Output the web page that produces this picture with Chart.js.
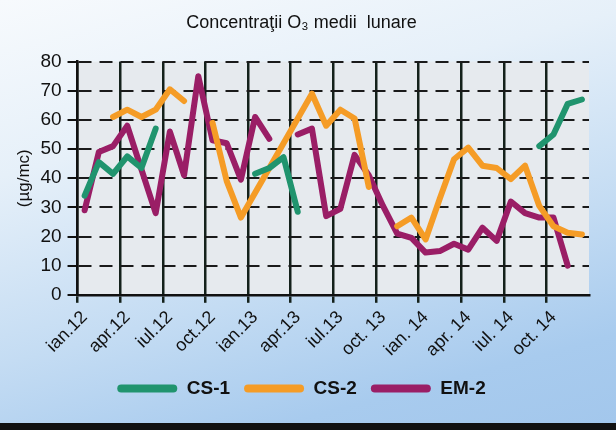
<!DOCTYPE html>
<html>
<head>
<meta charset="utf-8">
<script src="https://cdn.jsdelivr.net/npm/chart.js@4"></script>
<style>
    html, body { margin: 0; padding: 0; }
    #wrap {
        width: 616px;
        height: 423px;
        border-bottom: 7px solid #111;
        background: linear-gradient(165deg, #f7fafd 0%, #e6f0f9 30%, #c4dcf3 62%, #a8cbee 85%, #a3c7ec 100%);
    }
</style>
</head>
<body>
<div id="wrap"><canvas id="chart" width="616" height="423"></canvas></div>
<script>
var months = [
    'ian.12', 'feb.12', 'mar.12', 'apr.12', 'mai.12', 'iun.12', 'iul.12', 'aug.12', 'sep.12', 'oct.12', 'nov.12', 'dec.12',
    'ian.13', 'feb.13', 'mar.13', 'apr.13', 'mai.13', 'iun.13', 'iul.13', 'aug.13', 'sep.13', 'oct.13', 'nov.13', 'dec.13',
    'ian.14', 'feb.14', 'mar.14', 'apr.14', 'mai.14', 'iun.14', 'iul.14', 'aug.14', 'sep.14', 'oct.14', 'nov.14', 'dec.14'
];
var tickLabels = ['ian.12', 'apr.12', 'iul.12', 'oct.12', 'ian.13', 'apr.13', 'iul.13', 'oct. 13', 'ian. 14', 'apr. 14', 'iul. 14', 'oct. 14'];

var cs1 = [34, 45.5, 41.5, 47.5, 43.5, 57, null, null, null, null, null, null,
    41.5, 43.5, 47.2, 28.5, null, null, null, null, null, null, null, null,
    null, null, null, null, null, null, null, null, 51, 55, 65.5, 67];
var cs2 = [null, null, 61, 63.5, 61, 63.5, 70.5, 66.5, null, 59, 39, 26.5,
    35, 43.5, 52, 60.5, 69, 58, 63.5, 60.5, 37, null, 23.5, 26.5,
    19, 33, 46.5, 50.5, 44.3, 43.5, 39.7, 44.3, 30.5, 23.5, 21.3, 20.7];
var em2 = [29, 49, 51, 58, 43, 28, 56, 41, 75, 53, 52, 39.5,
    61, 53.5, null, 55, 57, 27, 29.5, 48, 41, 30.5, 21, 19.5,
    14.5, 15, 17.5, 15.5, 23, 18.5, 32, 28, 26.5, 26.5, 10, null];

var plotBg = {
    id: 'plotBg',
    beforeDraw: function (chart) {
        var a = chart.chartArea, ctx = chart.ctx;
        ctx.save();
        ctx.fillStyle = '#e6eaee';
        ctx.fillRect(a.left, a.top, a.right - a.left, a.bottom - a.top);
        ctx.restore();
    }
};

function line(label, data, color) {
    return {
        label: label,
        data: data,
        borderColor: color,
        backgroundColor: color,
        borderWidth: 6,
        pointRadius: 0,
        tension: 0,
        spanGaps: false,
        borderJoinStyle: 'round',
        borderCapStyle: 'round'
    };
}

Chart.defaults.font.family = '"Liberation Sans", Arial, sans-serif';
Chart.defaults.color = '#111';

new Chart(document.getElementById('chart'), {
    type: 'line',
    data: {
        labels: months,
        datasets: [
            line('CS-1', cs1, '#20946e'),
            line('CS-2', cs2, '#f59c26'),
            line('EM-2', em2, '#9a1e66')
        ]
    },
    plugins: [plotBg],
    options: {
        responsive: false,
        animation: false,
        layout: { padding: { left: 14, right: 27, top: 4, bottom: 15 } },
        plugins: {
            title: {
                display: true,
                text: 'Concentraţii O₃ medii  lunare',
                font: { size: 18, weight: 'normal' },
                color: '#111',
                padding: { top: 8, bottom: 28 }
            },
            legend: {
                position: 'bottom',
                labels: {
                    boxWidth: 60,
                    boxHeight: 8,
                    useBorderRadius: true,
                    borderRadius: 4,
                    padding: 14,
                    font: { size: 19, weight: 'bold' },
                    color: '#111',
                    generateLabels: function (chart) {
                        var items = Chart.defaults.plugins.legend.labels.generateLabels(chart);
                        items.forEach(function (it) { it.lineWidth = 0; });
                        return items;
                    }
                }
            },
            tooltip: { enabled: false }
        },
        scales: {
            x: {
                offset: true,
                grid: {
                    offset: true,
                    lineWidth: 2.5,
                    tickLength: 8,
                    color: function (ctx) { return ctx.index % 3 === 0 ? '#14211b' : 'rgba(0,0,0,0)'; }
                },
                border: { color: '#111', width: 2.5 },
                ticks: {
                    autoSkip: false,
                    minRotation: 45,
                    maxRotation: 45,
                    padding: 4,
                    font: { size: 18 },
                    color: '#111',
                    callback: function (v, i) { return i % 3 === 0 ? tickLabels[i / 3] : ''; }
                }
            },
            y: {
                min: 0,
                max: 80,
                title: {
                    display: true,
                    text: '(µg/mc)',
                    font: { size: 17 },
                    color: '#111',
                    padding: 0
                },
                grid: {
                    lineWidth: 2,
                    tickLength: 10,
                    tickColor: '#111',
                    color: function (ctx) { return ctx.index === 0 ? 'rgba(0,0,0,0)' : '#1a1a1a'; }
                },
                border: { color: '#111', width: 2.5, dash: [13, 8] },
                ticks: {
                    stepSize: 10,
                    padding: 6,
                    font: { size: 19 },
                    color: '#111'
                }
            }
        }
    }
});
</script>
</body>
</html>
